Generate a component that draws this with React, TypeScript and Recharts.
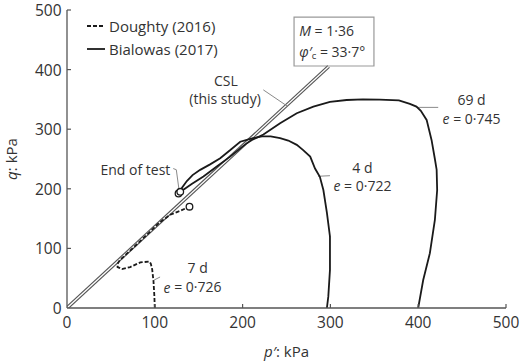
import { LineChart, Line, XAxis, YAxis, ReferenceDot, ReferenceArea, Legend } from "recharts";

// p' and q, both in kPa
const axisTicks = [0, 100, 200, 300, 400, 500];

// critical state line q = M p'
const cslM = 1.36;
const cslEndP = 298;

// stress paths [p', q]
const doughty7d: [number, number][] = [
  [100, 0], [99.5, 20], [98.5, 45], [97, 65], [95.5, 74], [94, 78], [83.5, 76.5], [72, 68.7],
  [62.6, 65.4], [57.6, 68.7], [57.6, 74], [60, 80], [75, 100.5], [91, 123], [95, 128.4],
  [105, 143], [117.6, 156.4], [129, 163], [139.5, 170],
];
const bialowas4d: [number, number][] = [
  [296, 0], [297.6, 19], [299.5, 64], [299.5, 120], [296, 160], [292, 198], [288, 220],
  [282.5, 234], [277, 254], [269, 265], [261.7, 273.7], [252, 281], [242.7, 285], [232, 288],
  [222, 288], [212, 285], [204.8, 282], [197.3, 279], [186, 265], [174.5, 251.4], [163, 241],
  [151.7, 231.8], [143, 223], [136.5, 213], [131, 202], [129, 195],
];
const bialowas69d: [number, number][] = [
  [400, 0], [405.7, 47], [413.3, 92], [419, 148], [421.6, 198], [421, 232], [419, 250],
  [415.2, 282], [409.6, 315.6], [403, 331], [398, 338], [390.5, 342.5], [378, 348.5],
  [356, 349.5], [337, 350], [318.5, 349], [299.5, 346], [280.6, 338], [261.7, 326.8],
  [242.7, 310], [223.7, 291], [212, 283], [204.8, 276.6], [185.8, 254], [170.6, 237.4],
  [155.4, 220.6], [142, 208], [133, 199], [127, 192],
];
const endOfTest: [number, number][] = [[127, 192], [129, 195], [139.5, 170]];

// leader lines for the annotations
const cslLeader: [number, number][] = [[223.6, 366], [250.6, 339]];
const endLeader: [number, number][] = [[121, 234], [124.5, 232], [127.6, 198]];
const leader69d: [number, number][] = [[398.2, 336.6], [422.8, 336.6]];
const leader4d: [number, number][] = [[286, 221], [299.5, 222]];
const leader7d: [number, number][] = [[99.3, 47], [106, 52]];

// box with M and phi'c
const boxP: [number, number] = [258.6, 349.6];
const boxQ: [number, number] = [406, 488];

const legendItems = [
  { name: "Doughty (2016)", dash: "4 2" },
  { name: "Bialowas (2017)", dash: undefined },
];

const FONT = '"Open Sans", "Noto Sans", sans-serif';
const FS = 15;
const NOTE_FS = 14;
const TEXT = "#333";
const AXIS = "#555";
const INK = "#1a1a1a";
const GREY = "#8a8a8a";

const pts = (arr: [number, number][]) => arr.map(([p, q]) => ({ p, q }));
const cslData = [{ p: 0, q: 0 }, { p: cslEndP, q: cslM * cslEndP }];

type Note = { p: number; q: number; anchor: "start" | "middle" | "end"; body: React.ReactNode };

const it = (s: string) => <tspan fontStyle="italic">{s}</tspan>;

const notes: Note[] = [
  { p: 181, q: 381, anchor: "middle", body: "CSL" },
  { p: 180, q: 352, anchor: "middle", body: "(this study)" },
  { p: 117.7, q: 231.8, anchor: "end", body: "End of test" },
  { p: 460.8, q: 349.5, anchor: "middle", body: "69 d" },
  { p: 460.8, q: 318, anchor: "middle", body: <>{it("e")} = 0·745</> },
  { p: 336.5, q: 236, anchor: "middle", body: "4 d" },
  { p: 336.5, q: 206, anchor: "middle", body: <>{it("e")} = 0·722</> },
  { p: 148.8, q: 67.5, anchor: "middle", body: "7 d" },
  { p: 143, q: 36, anchor: "middle", body: <>{it("e")} = 0·726</> },
  { p: 264.5, q: 466, anchor: "start", body: <>{it("M")} = 1·36</> },
  {
    p: 264.5, q: 431, anchor: "start",
    body: (
      <>
        {it("φ′")}
        <tspan dy={3.5} fontSize={9.5}>c</tspan>
        <tspan dy={-3.5}> = 33·7°</tspan>
      </>
    ),
  },
];

const XTick = (props: any) => {
  const { x, y, payload } = props;
  return (
    <g>
      {payload.value !== 0 && <line x1={x} x2={x} y1={y} y2={y - 4} stroke={AXIS} strokeWidth={1.2} />}
      <text x={x} y={y + 19.5} textAnchor="middle" fontSize={15.5} fill={TEXT} fontFamily={FONT}>
        {payload.value}
      </text>
    </g>
  );
};

const YTick = (props: any) => {
  const { x, y, payload } = props;
  return (
    <g>
      {payload.value !== 0 && <line x1={x} x2={x + 4} y1={y} y2={y} stroke={AXIS} strokeWidth={1.2} />}
      <text x={x - 5.5} y={y} textAnchor="end" dominantBaseline="central" fontSize={15.5} fill={TEXT} fontFamily={FONT}>
        {payload.value}
      </text>
    </g>
  );
};

const LegendBox = () => (
  <div style={{ fontFamily: FONT, fontSize: FS, color: TEXT }}>
    {legendItems.map((item) => (
      <div key={item.name} style={{ display: "flex", alignItems: "center", height: 23 }}>
        <svg width={20} height={10}>
          <line x1={1} x2={19} y1={5} y2={5} stroke={INK} strokeWidth={1.8} strokeDasharray={item.dash} />
        </svg>
        <span style={{ marginLeft: 3, whiteSpace: "nowrap" }}>{item.name}</span>
      </div>
    ))}
  </div>
);

const leader = (key: string, arr: [number, number][]) => (
  <Line
    key={key}
    data={pts(arr)}
    dataKey="q"
    type="linear"
    stroke={GREY}
    strokeWidth={1}
    dot={false}
    activeDot={false}
    legendType="none"
    isAnimationActive={false}
  />
);

const path = (key: string, arr: [number, number][], dash?: string) => (
  <Line
    key={key}
    data={pts(arr)}
    dataKey="q"
    type="linear"
    stroke={INK}
    strokeWidth={1.8}
    strokeDasharray={dash}
    dot={false}
    activeDot={false}
    legendType="none"
    isAnimationActive={false}
  />
);

export default function App() {
  return (
    <div style={{ position: "absolute", left: 0, top: 0 }}>
      <LineChart width={520} height={361} margin={{ top: 10, right: 14, bottom: 8, left: 17 }}>
        <XAxis
          type="number"
          dataKey="p"
          domain={[0, 500]}
          ticks={axisTicks}
          allowDataOverflow
          tickSize={0}
          tickMargin={0}
          tickLine={false}
          axisLine={{ stroke: AXIS, strokeWidth: 1.3 }}
          tick={XTick}
          height={45}
          label={{
            content: (props: any) => {
              const vb = props.viewBox;
              return (
                <text x={vb.x + vb.width / 2} y={vb.y + 43} textAnchor="middle" dominantBaseline="central"
                  fontSize={FS} fill={TEXT} fontFamily={FONT}>
                  {it("p′")}: kPa
                </text>
              );
            },
          }}
        />
        <YAxis
          type="number"
          domain={[0, 500]}
          ticks={axisTicks}
          allowDataOverflow
          tickSize={0}
          tickMargin={0}
          tickLine={false}
          axisLine={{ stroke: AXIS, strokeWidth: 1.3 }}
          tick={YTick}
          width={50}
          label={{
            content: (props: any) => {
              const vb = props.viewBox;
              const cx = 11;
              const cy = vb.y + vb.height / 2;
              return (
                <text x={cx} y={cy} transform={`rotate(-90 ${cx} ${cy})`} textAnchor="middle"
                  dominantBaseline="central" fontSize={FS} fill={TEXT} fontFamily={FONT}>
                  {it("q")}: kPa
                </text>
              );
            },
          }}
        />
        <Legend
          layout="vertical"
          verticalAlign="middle"
          align="center"
          content={LegendBox}
          wrapperStyle={{ top: 14.5, left: 86, width: "auto", height: "auto" }}
        />

        {/* CSL drawn as a hollow double line */}
        <Line data={cslData} dataKey="q" type="linear" stroke="#555" strokeWidth={3.6} dot={false}
          activeDot={false} legendType="none" isAnimationActive={false} />
        <Line data={cslData} dataKey="q" type="linear" stroke="#fff" strokeWidth={1.3} dot={false}
          activeDot={false} legendType="none" isAnimationActive={false} />

        {leader("l-csl", cslLeader)}
        {leader("l-end", endLeader)}
        {leader("l-69", leader69d)}
        {leader("l-4", leader4d)}
        {leader("l-7", leader7d)}

        {path("d7", doughty7d, "4 2")}
        {path("b4", bialowas4d)}
        {path("b69", bialowas69d)}

        <ReferenceArea x1={boxP[0]} x2={boxP[1]} y1={boxQ[0]} y2={boxQ[1]} fill="#fff" fillOpacity={1}
          stroke="#999" strokeWidth={1.2} />

        {endOfTest.map(([p, q], i) => (
          <ReferenceDot key={`end-${i}`} x={p} y={q} r={3.3} fill="#fff" stroke={INK} strokeWidth={1.3} />
        ))}

        {notes.map((n, i) => (
          <ReferenceDot
            key={`note-${i}`}
            x={n.p}
            y={n.q}
            r={0}
            shape={(props: any) => (
              <text x={props.cx} y={props.cy} textAnchor={n.anchor} dominantBaseline="central"
                fontSize={NOTE_FS} fill={TEXT} fontFamily={FONT}>
                {n.body}
              </text>
            )}
          />
        ))}
      </LineChart>
    </div>
  );
}
